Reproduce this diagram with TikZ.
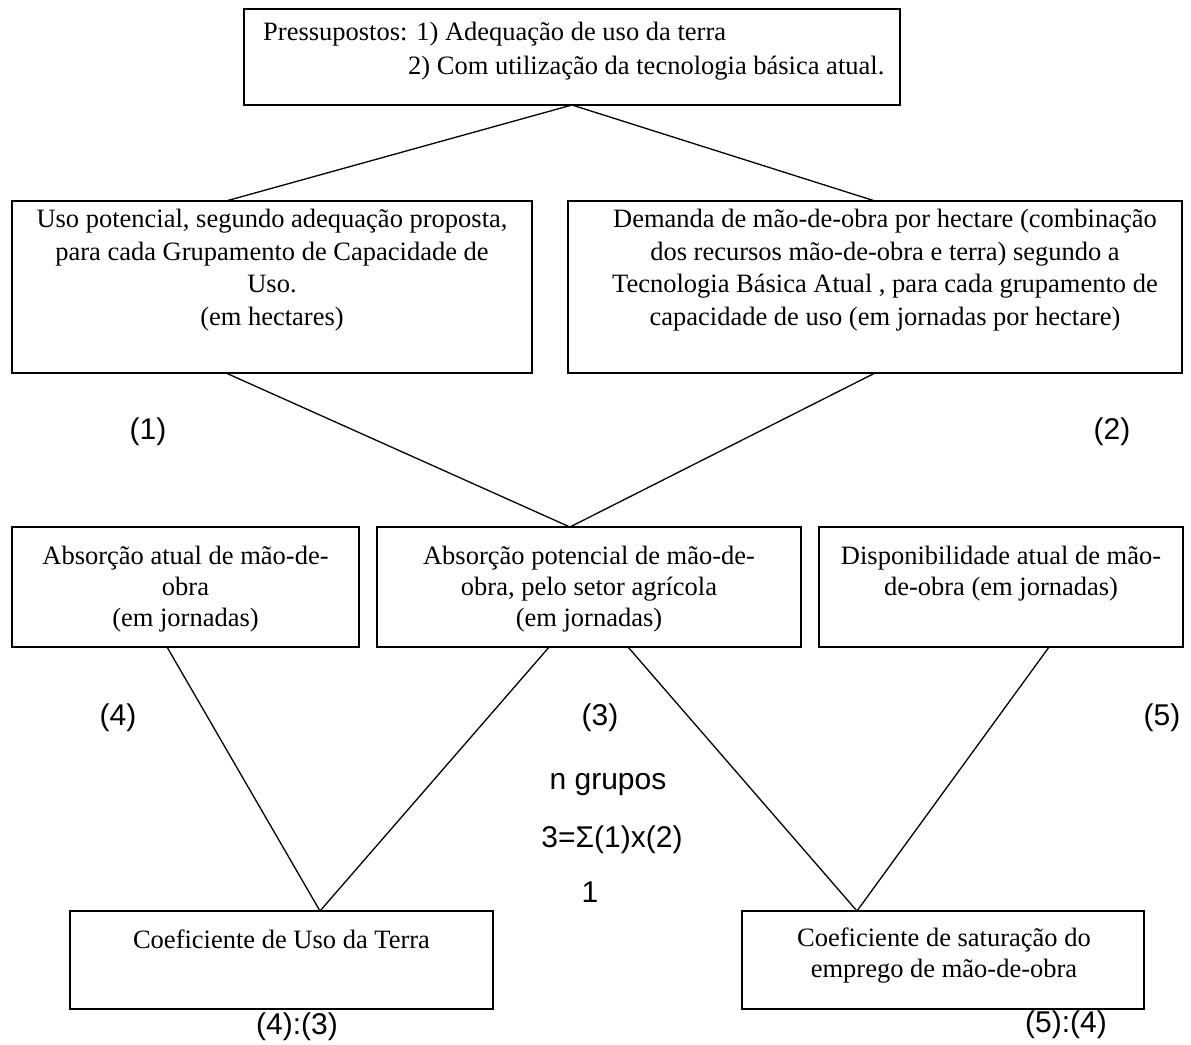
\documentclass[tikz,border=0pt]{standalone}
\usepackage{fontspec}
\setmainfont{Liberation Serif}
\newfontfamily\arialf{Liberation Sans}
\usetikzlibrary{calc}
\begin{document}
\begin{tikzpicture}[x=1pt,y=-1pt,
  box/.style={draw, line width=1.5pt, rectangle, inner sep=0pt, outer sep=0pt, anchor=north west},
  txt/.style={font=\fontsize{26.5}{31}\selectfont, align=center, inner sep=0pt},
  txtup/.style={font=\fontsize{26.5}{32.5}\selectfont, align=center, inner sep=0pt},
  lab/.style={font=\arialf\fontsize{30}{34}\selectfont, inner sep=0pt},
  conn/.style={line width=1.3pt}]
\fill[white] (0,0) rectangle (1191,1044);
\useasboundingbox (0,0) rectangle (1191,1044);

% boxes
\node[box, minimum width=656pt, minimum height=96pt] (T) at (244,9) {};
\node[box, minimum width=520pt, minimum height=172pt] (L1) at (12,201) {};
\node[box, minimum width=614pt, minimum height=172pt] (R1) at (568,201) {};
\node[box, minimum width=347pt, minimum height=120pt] (M1) at (12,527) {};
\node[box, minimum width=424pt, minimum height=120pt] (M2) at (377,527) {};
\node[box, minimum width=364pt, minimum height=120pt] (M3) at (819,527) {};
\node[box, minimum width=423pt, minimum height=98pt] (B1) at (70,911) {};
\node[box, minimum width=402pt, minimum height=98pt] (B2) at (742,911) {};

% texts
\node[font=\fontsize{26.5}{34}\selectfont, align=left, inner sep=0pt, anchor=west] (Tt) at (263,51)
  {Pressupostos: 1) Adequação de uso da terra\\\hspace*{145pt}2) Com utilização da tecnologia básica atual.};
\node[txtup] (L1t) at (272,270) {Uso potencial, segundo adequação proposta,\\para cada Grupamento de Capacidade de\\Uso.\\(em hectares)};
\node[txtup] (R1t) at (885,270) {Demanda de mão-de-obra por hectare (combinação\\dos recursos mão-de-obra e terra) segundo a\\Tecnologia Básica Atual , para cada grupamento de\\capacidade de uso (em jornadas por hectare)};
\node[txt] (M1t) at (185.5,589) {Absorção atual de mão-de-\\obra\\(em jornadas)};
\node[txt] (M2t) at (589,589) {Absorção potencial de mão-de-\\obra, pelo setor agrícola\\(em jornadas)};
\node[txt] (M3t) at (1001,573.5) {Disponibilidade atual de mão-\\de-obra (em jornadas)};
\node[txt] (B1t) at (281.5,939) {Coeficiente de Uso da Terra};
\node[txt] (B2t) at (944,956) {Coeficiente de saturação do\\emprego de mão-de-obra};

% labels
\node[lab] (l1) at (148,432) {(1)};
\node[lab] (l2) at (1112,432) {(2)};
\node[lab] (l4) at (118,718) {(4)};
\node[lab] (l3) at (600,718) {(3)};
\node[lab] (l5) at (1162,718) {(5)};
\node[lab] (ng) at (608,785) {n grupos};
\node[lab] (fo) at (612,840) {3=Σ(1)x(2)};
\node[lab] (one) at (590,892) {1};
\node[lab] (q1) at (297,1027) {(4):(3)};
\node[lab] (q2) at (1066,1025) {(5):(4)};

% connectors
\coordinate (L1top) at ($(L1.north west)!0.4115!(L1.north east)$);
\coordinate (L1bot) at ($(L1.south west)!0.4115!(L1.south east)$);
\coordinate (M2top) at ($(M2.north west)!0.455!(M2.north east)$);
\coordinate (M1bot) at ($(M1.south west)!0.4467!(M1.south east)$);
\coordinate (M2botA) at ($(M2.south west)!0.406!(M2.south east)$);
\coordinate (M2botB) at ($(M2.south west)!0.592!(M2.south east)$);
\coordinate (M3bot) at ($(M3.south west)!0.632!(M3.south east)$);
\coordinate (B1top) at ($(B1.north west)!0.591!(B1.north east)$);
\coordinate (B2top) at ($(B2.north west)!0.286!(B2.north east)$);

\draw[conn] (L1top) -- (T.south) -- (R1.north);
\draw[conn] (L1bot) -- (M2top) -- (R1.south);
\draw[conn] (M1bot) -- (B1top) -- (M2botA);
\draw[conn] (M2botB) -- (B2top) -- (M3bot);
\end{tikzpicture}
\end{document}
